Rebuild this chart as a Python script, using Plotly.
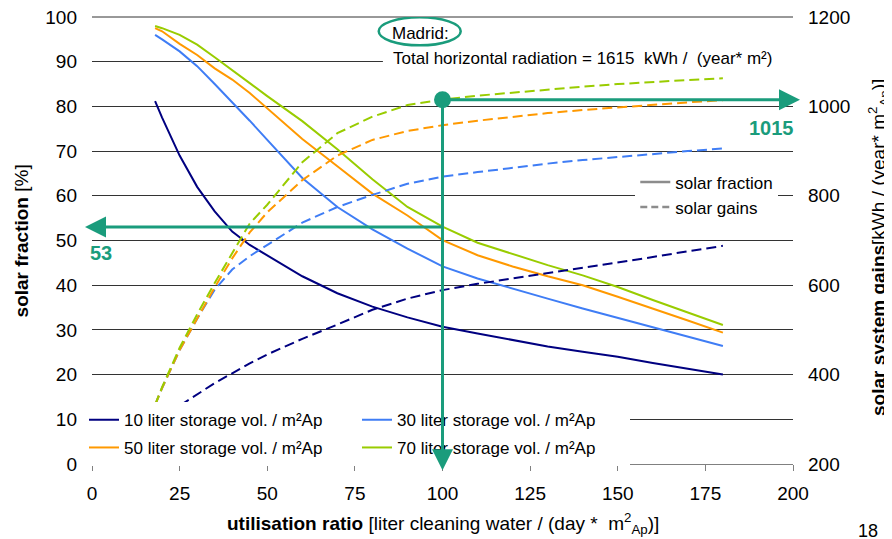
import plotly.graph_objects as go

# utilisation ratio [liter cleaning water / (day * m2 Ap)]
X = [18, 20, 25, 30, 35, 40, 45, 50, 60, 70, 80, 90, 100, 110, 120, 130, 140, 150, 160, 170, 180]

# solar fraction [%]
SF10 = [81.2, 77.5, 69.0, 62.0, 56.5, 52.0, 49.0, 46.7, 42.0, 38.2, 35.2, 32.8, 30.7, 29.2, 27.7, 26.3, 25.1, 24.0, 22.6, 21.3, 20.0]
SF30 = [96.0, 95.0, 92.3, 89.0, 85.0, 81.0, 76.8, 72.5, 64.0, 57.5, 52.5, 48.2, 44.2, 41.5, 39.2, 37.0, 34.8, 32.7, 30.6, 28.5, 26.4]
SF50 = [97.5, 96.8, 94.0, 91.5, 88.5, 86.0, 83.0, 79.5, 72.7, 66.6, 60.5, 55.6, 50.1, 46.7, 44.2, 42.0, 40.0, 37.4, 34.8, 32.1, 29.4]
SF70 = [98.0, 97.5, 96.0, 93.8, 91.0, 88.0, 85.2, 82.3, 76.7, 70.4, 63.7, 57.5, 53.1, 49.5, 47.0, 44.5, 42.2, 39.6, 36.7, 33.9, 31.1]

# solar system gains [kWh / (year * m2 Ap)]
SG10 = [295, 305, 329, 355, 381, 403, 425, 445, 480, 512, 545, 570, 589, 603, 615, 626, 638, 650, 663, 676, 688]
SG30 = [332, 370, 455, 525, 590, 635, 665, 690, 740, 775, 802, 827, 843, 853, 863, 872, 880, 887, 894, 900, 906]
SG50 = [332, 370, 455, 525, 595, 660, 718, 763, 835, 890, 925, 945, 958, 968, 977, 985, 992, 998, 1004, 1009, 1014]
SG70 = [332, 372, 460, 535, 605, 670, 738, 780, 875, 940, 977, 1003, 1015, 1024, 1031, 1037, 1044, 1050, 1055, 1059, 1063]

NAMES = ["10 liter storage vol. / m²Ap", "30 liter storage vol. / m²Ap",
         "50 liter storage vol. / m²Ap", "70 liter storage vol. / m²Ap"]
COLORS = ["#000080", "#3f7df5", "#ff9900", "#99cc00"]
LEGENDS = ["legend", "legend", "legend2", "legend2"]

X_TICKS = [0, 25, 50, 75, 100, 125, 150, 175, 200]
Y_TICKS = [0, 10, 20, 30, 40, 50, 60, 70, 80, 90, 100]
Y2_TICKS = [200, 400, 600, 800, 1000, 1200]

# highlighted reading
SEL_X = 100
SEL_GAIN = 1015
SEL_SF = 53

TEAL = "#1a9c7c"
FONT = "Liberation Sans, Arial, sans-serif"
GRID = "#333333"

fig = go.Figure()

for sg, c in zip([SG10, SG30, SG50, SG70], COLORS):
    fig.add_trace(go.Scatter(x=X, y=sg, yaxis="y2", mode="lines",
                             line=dict(color=c, width=2, dash="10px,5px"),
                             showlegend=False, hoverinfo="skip"))

for sf, c, n, lg in zip([SF10, SF30, SF50, SF70], COLORS, NAMES, LEGENDS):
    fig.add_trace(go.Scatter(x=X, y=sf, mode="lines", name=n,
                             line=dict(color=c, width=2), legend=lg))

# line-style legend
fig.add_trace(go.Scatter(x=[None], y=[None], mode="lines", name="solar fraction",
                         line=dict(color="#8c8c8c", width=2.5), legend="legend3"))
fig.add_trace(go.Scatter(x=[None], y=[None], mode="lines", name="solar gains",
                         line=dict(color="#8c8c8c", width=2.5, dash="7px,4px"), legend="legend3"))

fig.add_trace(go.Scatter(x=[SEL_X], y=[SEL_GAIN], yaxis="y2", mode="markers",
                         marker=dict(color=TEAL, size=17), showlegend=False))

annotations = [
    # arrows
    dict(x=202, y=SEL_GAIN, xref="x", yref="y2", ax=SEL_X, ay=SEL_GAIN, axref="x", ayref="y2",
         text="", showarrow=True, arrowhead=2, arrowsize=1.4, arrowwidth=3, arrowcolor=TEAL, standoff=0),
    dict(x=SEL_X, y=186, xref="x", yref="y2", ax=SEL_X, ay=SEL_GAIN, axref="x", ayref="y2",
         text="", showarrow=True, arrowhead=2, arrowsize=1.4, arrowwidth=3, arrowcolor=TEAL, standoff=0),
    dict(x=-2, y=SEL_SF, xref="x", yref="y", ax=SEL_X, ay=SEL_SF, axref="x", ayref="y",
         text="", showarrow=True, arrowhead=2, arrowsize=1.4, arrowwidth=3, arrowcolor=TEAL, standoff=0),
    dict(x=2.6, y=47.2, xref="x", yref="y", text="<b>%d</b>" % SEL_SF, showarrow=False,
         font=dict(size=20, color=TEAL, family=FONT)),
    dict(x=200, y=952, xref="x", yref="y2", xshift=3, text="<b>%d</b>" % SEL_GAIN, showarrow=False,
         xanchor="right", font=dict(size=20, color=TEAL, family=FONT)),
    # Madrid texts
    dict(x=93.6, y=96.4, xref="x", yref="y", text="Madrid:", showarrow=False,
         font=dict(size=17, color="black", family=FONT)),
    dict(x=85.3, y=90.8, xref="x", yref="y", xanchor="left",
         text="Total horizontal radiation = 1615  kWh /  (year* m²)", showarrow=False,
         font=dict(size=17, color="black", family=FONT)),
    # axis titles
    dict(x=0.5, y=-0.132, xref="paper", yref="paper", xanchor="center", yanchor="middle",
         text="<b>utilisation ratio</b> [liter cleaning water / (day *  m<sup>2</sup><sub>Ap</sub>)]",
         showarrow=False, font=dict(size=19, color="black", family=FONT)),
    dict(x=-0.1, y=0.5, xref="paper", yref="paper", xanchor="center", yanchor="middle",
         textangle=-90, text="<b>solar fraction</b> [%]", showarrow=False,
         font=dict(size=19, color="black", family=FONT)),
    dict(x=1.121, y=0.485, xref="paper", yref="paper", xanchor="center", yanchor="middle",
         textangle=-90,
         text="<b>solar system gains</b>[kWh / (year* m<sup>2</sup><sub>Ap</sub>)]", showarrow=False,
         font=dict(size=19, color="black", family=FONT)),
    dict(x=1.107, y=-0.15, xref="paper", yref="paper", xanchor="center", yanchor="middle",
         text="18", showarrow=False, font=dict(size=18, color="black", family=FONT)),
]

shapes = [
    # top gridline at 100 %
    dict(type="line", xref="paper", yref="paper", x0=0, x1=1, y0=1, y1=1,
         line=dict(color=GRID, width=1), layer="below"),
    dict(type="rect", xref="x", yref="y", x0=83, x1=200, y0=88.8, y1=92.8,
         fillcolor="white", line=dict(width=0), layer="above"),
    dict(type="circle", xref="x", yref="y", xsizemode="pixel", ysizemode="pixel",
         xanchor=SEL_X, yanchor=0, x0=-33, x1=33, y0=-42, y1=-12,
         line=dict(color=TEAL, width=2.5)),
    dict(type="circle", xref="x", yref="y", xsizemode="pixel", ysizemode="pixel",
         xanchor=93.5, yanchor=96.8, x0=-41, x1=41, y0=-14, y1=14,
         line=dict(color=TEAL, width=2.5)),
]

# the page body adds an 8 px offset, so margins compensate for it
fig.update_layout(
    width=892, height=539,
    margin=dict(l=84, r=107, t=9, b=83, autoexpand=False),
    paper_bgcolor="white", plot_bgcolor="white",
    font=dict(family=FONT, size=17, color="black"),
    xaxis=dict(range=[0, 200], tickvals=X_TICKS, showgrid=False, zeroline=False,
               showline=True, linecolor="#808080", linewidth=1,
               ticks="outside", ticklen=6, tickcolor="#808080", automargin=False,
               tickfont=dict(size=19), ticklabelstandoff=6, ticklabeloverflow="allow"),
    yaxis=dict(range=[0, 100], tickvals=Y_TICKS, showgrid=True, gridcolor=GRID, gridwidth=1,
               zeroline=False, showline=False, tickfont=dict(size=19), ticklabelstandoff=14,
               automargin=False, ticklabeloverflow="allow"),
    yaxis2=dict(range=[200, 1200], tickvals=Y2_TICKS, overlaying="y", side="right",
                showgrid=False, zeroline=False, showline=False, automargin=False,
                tickfont=dict(size=19), ticklabelstandoff=14, ticklabeloverflow="allow"),
    legend=dict(orientation="h", xref="container", x=0.0852, xanchor="left", y=0.098, yanchor="middle",
                entrywidth=228, entrywidthmode="pixels", bgcolor="white",
                font=dict(size=17, family=FONT), itemwidth=30),
    legend2=dict(orientation="h", xref="container", x=0.0852, xanchor="left", y=0.036, yanchor="middle",
                 entrywidth=228, entrywidthmode="pixels", bgcolor="white",
                 font=dict(size=17, family=FONT), itemwidth=30),
    legend3=dict(orientation="v", x=0.775, xanchor="left", y=0.602, yanchor="middle",
                 bgcolor="white", font=dict(size=17, family=FONT), itemwidth=30),
    annotations=annotations,
    shapes=shapes,
)

fig.write_html("out.html")
